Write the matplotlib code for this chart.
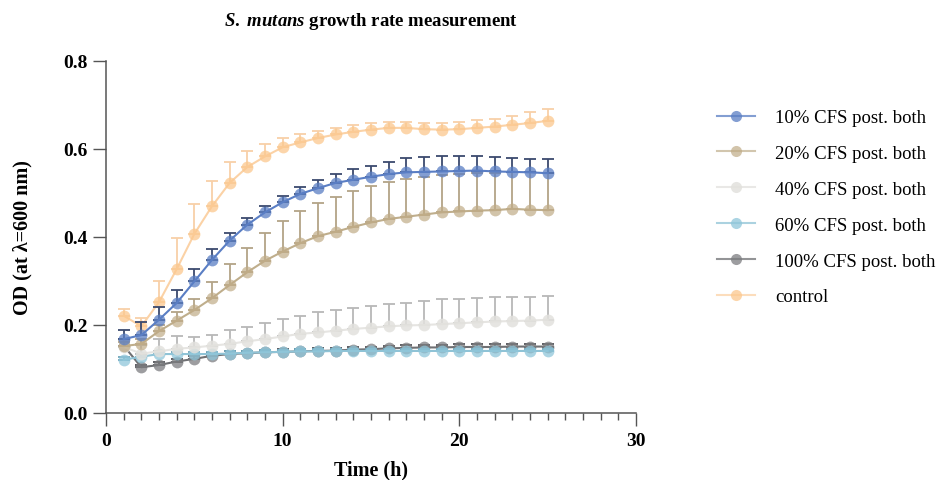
import numpy as np
import matplotlib
matplotlib.use("Agg")
import matplotlib.pyplot as plt
from matplotlib.ticker import MultipleLocator

# ---------------- data ----------------
time_h = list(range(1, 26))

labels = ["10% CFS post. both", "20% CFS post. both", "40% CFS post. both",
          "60% CFS post. both", "100% CFS post. both", "control"]

cfs10 = [0.168, 0.177, 0.212, 0.250, 0.299, 0.348, 0.392, 0.428, 0.456, 0.479,
         0.498, 0.511, 0.523, 0.530, 0.537, 0.543, 0.547, 0.548, 0.549, 0.550,
         0.551, 0.549, 0.548, 0.547, 0.545]
cfs10_err = [0.021, 0.030, 0.028, 0.030, 0.028, 0.025, 0.016, 0.015, 0.014, 0.015,
             0.016, 0.019, 0.020, 0.025, 0.025, 0.027, 0.032, 0.033, 0.034, 0.035,
             0.033, 0.032, 0.032, 0.031, 0.032]

cfs20 = [0.152, 0.157, 0.186, 0.210, 0.234, 0.261, 0.291, 0.320, 0.346, 0.367,
         0.386, 0.402, 0.412, 0.423, 0.433, 0.441, 0.446, 0.451, 0.456, 0.458,
         0.460, 0.461, 0.464, 0.462, 0.461]
cfs20_err = [0.010, 0.012, 0.013, 0.019, 0.024, 0.037, 0.048, 0.055, 0.062, 0.070,
             0.072, 0.075, 0.080, 0.082, 0.084, 0.083, 0.086, 0.085, 0.084, 0.085,
             0.085, 0.085, 0.084, 0.085, 0.085]

cfs40 = [0.150, 0.135, 0.140, 0.146, 0.149, 0.153, 0.157, 0.163, 0.168, 0.174,
         0.180, 0.183, 0.187, 0.191, 0.194, 0.197, 0.199, 0.200, 0.202, 0.204,
         0.206, 0.208, 0.209, 0.210, 0.212]
cfs40_err = [0.015, 0.020, 0.028, 0.030, 0.024, 0.025, 0.032, 0.033, 0.036, 0.040,
             0.041, 0.046, 0.048, 0.048, 0.050, 0.050, 0.051, 0.054, 0.056, 0.055,
             0.055, 0.055, 0.055, 0.053, 0.053]

cfs60 = [0.121, 0.128, 0.134, 0.134, 0.134, 0.134, 0.135, 0.137, 0.138, 0.139,
         0.140, 0.140, 0.141, 0.141, 0.141, 0.141, 0.141, 0.141, 0.141, 0.141,
         0.141, 0.141, 0.141, 0.141, 0.141]
cfs60_err = [0.006, 0.006, 0.005, 0.005, 0.005, 0.005, 0.005, 0.005, 0.005, 0.005,
             0.005, 0.005, 0.005, 0.005, 0.005, 0.005, 0.005, 0.005, 0.005, 0.005,
             0.005, 0.005, 0.005, 0.005, 0.005]

cfs100 = [0.153, 0.104, 0.109, 0.117, 0.123, 0.130, 0.134, 0.136, 0.138, 0.139,
          0.140, 0.141, 0.142, 0.144, 0.145, 0.147, 0.148, 0.149, 0.149, 0.150,
          0.150, 0.150, 0.151, 0.151, 0.151]
cfs100_err = [0.015, 0.006, 0.006, 0.006, 0.006, 0.006, 0.006, 0.006, 0.006, 0.006,
              0.006, 0.006, 0.006, 0.006, 0.006, 0.006, 0.006, 0.006, 0.006, 0.006,
              0.006, 0.006, 0.006, 0.006, 0.006]

control = [0.221, 0.197, 0.252, 0.327, 0.407, 0.470, 0.523, 0.559, 0.583, 0.604,
           0.615, 0.625, 0.633, 0.639, 0.644, 0.648, 0.648, 0.645, 0.644, 0.645,
           0.648, 0.651, 0.655, 0.659, 0.664]
control_err = [0.015, 0.020, 0.047, 0.070, 0.068, 0.058, 0.047, 0.037, 0.028, 0.021,
               0.018, 0.016, 0.015, 0.015, 0.014, 0.014, 0.014, 0.014, 0.015, 0.016,
               0.017, 0.018, 0.020, 0.026, 0.028]

series = [cfs10, cfs20, cfs40, cfs60, cfs100, control]
errors = [cfs10_err, cfs20_err, cfs40_err, cfs60_err, cfs100_err, control_err]

marker_colors = ["#5a7ec4", "#c0ab86", "#e2e1dd", "#8fc6da", "#7c7d80", "#fcc88e"]
line_colors = ["#5a7ec4", "#bfae8c", "#e6e5e2", "#8fc3d6", "#6f7073", "#fbd2a6"]
err_colors = ["#3c4a6e", "#b3a487", "#b8b8b8", "#6fa6bb", "#505257", "#f8d0a8"]
alphas = [0.75, 0.7, 0.85, 0.75, 0.75, 0.75]

# ---------------- figure ----------------
plt.rcParams['font.family'] = ['Liberation Serif', 'DejaVu Serif']
plt.rcParams['mathtext.fontset'] = 'custom'
plt.rcParams['mathtext.rm'] = 'Liberation Serif:bold'
plt.rcParams['mathtext.it'] = 'Liberation Serif:italic:bold'
plt.rcParams['mathtext.bf'] = 'Liberation Serif:bold'

fig = plt.figure(figsize=(9.44, 4.81), dpi=100)
ax = fig.add_axes([106 / 944, 1 - 414 / 481, (636 - 106) / 944, (414 - 62) / 481])

n = len(series)
for i, (y, e) in enumerate(zip(series, errors)):
    z = 10 + (n - i) * 2
    ax.errorbar(time_h, y, yerr=[np.zeros(len(e)), e], fmt='none',
                ecolor=err_colors[i], elinewidth=1.3, capsize=4, capthick=1.3,
                zorder=z)
    ax.plot(time_h, y, '-', color=line_colors[i], lw=1.5, zorder=z + 0.5)
    ax.plot(time_h, y, 'o', color=marker_colors[i], ms=8.5, mec='none',
            alpha=alphas[i], zorder=z + 1)
    ax.plot([], [], '-o', color=line_colors[i], mfc=marker_colors[i], mec='none',
            ms=8, lw=1.5, alpha=alphas[i], label=labels[i])

ax.set_xlim(0, 30)
ax.set_ylim(0, 0.8)
ax.xaxis.set_major_locator(MultipleLocator(10))
ax.xaxis.set_minor_locator(MultipleLocator(1))
ax.yaxis.set_major_locator(MultipleLocator(0.2))
ax.yaxis.set_major_formatter(matplotlib.ticker.FormatStrFormatter('%.1f'))

for s in ['top', 'right']:
    ax.spines[s].set_visible(False)
for s in ['left', 'bottom']:
    ax.spines[s].set_color('#555555')
    ax.spines[s].set_linewidth(1.1)

ax.tick_params(axis='both', which='major', direction='out', length=9.5,
               width=1.0, color='#555555', labelsize=14, pad=4)
ax.tick_params(axis='x', which='minor', direction='out', length=5,
               width=1.0, color='#555555')
for lab in ax.get_xticklabels() + ax.get_yticklabels():
    lab.set_fontweight('bold')

ax.set_xlabel('Time (h)', fontsize=14.5, fontweight='bold', labelpad=8)
ax.set_ylabel('OD (at λ=600 nm)', fontsize=14.5, fontweight='bold', labelpad=22)
ax.set_title(r'$\mathit{S.\ mutans}$ growth rate measurement', fontsize=13.5,
             fontweight='bold', pad=26)

leg = fig.legend(loc='upper left', bbox_to_anchor=(717 / 944, 1 - 110 / 481),
                 frameon=False, fontsize=13.5, handlelength=2.0, handletextpad=1.1,
                 labelspacing=1.0, borderpad=0, borderaxespad=0)

fig.savefig('out.png', dpi=100)
